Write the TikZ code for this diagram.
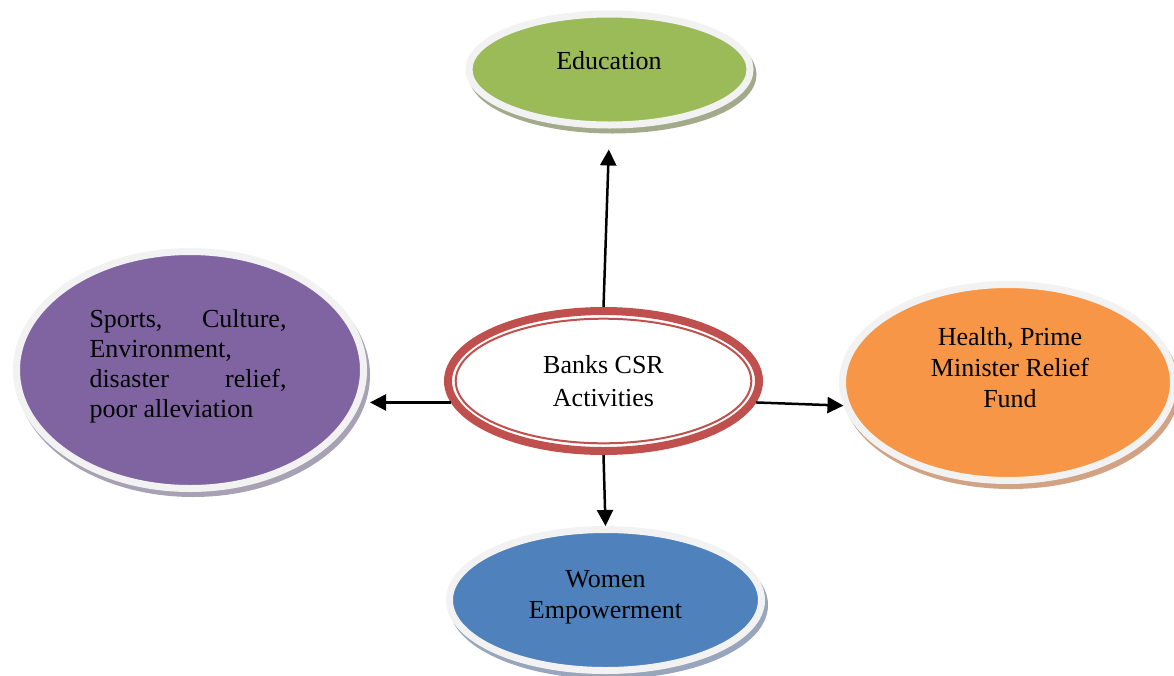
\documentclass[tikz,border=0pt]{standalone}
\usepackage{fontspec}
\setmainfont{Liberation Serif}
\usetikzlibrary{shapes.geometric,shadows,arrows.meta}
\definecolor{edugreen}{HTML}{9BBB59}
\definecolor{edushadow}{HTML}{A3AA8C}
\definecolor{purfill}{HTML}{8064A2}
\definecolor{purshadow}{HTML}{A7A1B4}
\definecolor{orgfill}{HTML}{F79646}
\definecolor{orgshadow}{HTML}{D2A284}
\definecolor{bluefill}{HTML}{4F81BD}
\definecolor{blueshadow}{HTML}{97A6BC}
\definecolor{csrred}{HTML}{C0504D}
\definecolor{bordergray}{HTML}{F2F2F2}
\begin{document}
\begin{tikzpicture}[x=1pt,y=-1pt,
  bubble/.style={ellipse, draw=bordergray, line width=7pt, inner sep=0pt},
  bshadow/.style={general shadow={shadow xshift=3pt, shadow yshift=-5pt, fill=#1, draw=#1, line width=7pt}},
  lbl/.style={font=\fontsize{26}{31}\selectfont, align=center, inner sep=0pt},
  conn/.style={line width=2.5pt, -{Triangle[length=16pt,width=16pt]}}]
\useasboundingbox (0,0) rectangle (1174,675);
% outer ellipses
\node[bubble, bshadow=edushadow, fill=edugreen, minimum width=281pt, minimum height=111pt] (edu) at (609.5,69.5) {};
\node[bubble, bshadow=purshadow, fill=purfill, minimum width=347pt, minimum height=237pt] (pur) at (190,370) {};
\node[bubble, bshadow=orgshadow, fill=orgfill, minimum width=331pt, minimum height=196pt] (org) at (1008,382.5) {};
\node[bubble, bshadow=blueshadow, fill=bluefill, minimum width=312pt, minimum height=141pt] (wom) at (605.5,600) {};
% central ellipse
\node[ellipse, draw=csrred, line width=8pt, fill=white, inner sep=0pt, minimum width=311pt, minimum height=140pt] (c) at (603.5,381) {};
\draw[csrred, line width=2pt] (c.center) ellipse [x radius=147.8pt, y radius=62.3pt];
% texts
\node[lbl] (edut) at (609,60.5) {Education};
\node[lbl, font=\fontsize{26}{32.5}\selectfont] (ct) at (603.5,381) {Banks CSR\\Activities};
\node[lbl, align=left, font=\fontsize{26}{30}\selectfont] (purt) at (188,366)
  {\makebox[197pt]{Sports,\hfill Culture,}\\Environment,\\\makebox[197pt]{disaster\hfill relief,}\\poor alleviation};
\node[lbl, font=\fontsize{26}{30.7}\selectfont] (orgt) at (1010,367.7) {Health, Prime\\Minister Relief\\Fund};
\node[lbl] (womt) at (605.5,597) {Women\\Empowerment};
% connectors
\draw[conn, shorten >=21pt] (c.north) -- (edu.south);
\draw[conn, shorten >=3pt] (c.188) -- (c.188 -| pur.east);
\draw[conn] (c.-8) -- (org.188);
\draw[conn] (c.south) -- (wom.north);
\end{tikzpicture}
\end{document}
